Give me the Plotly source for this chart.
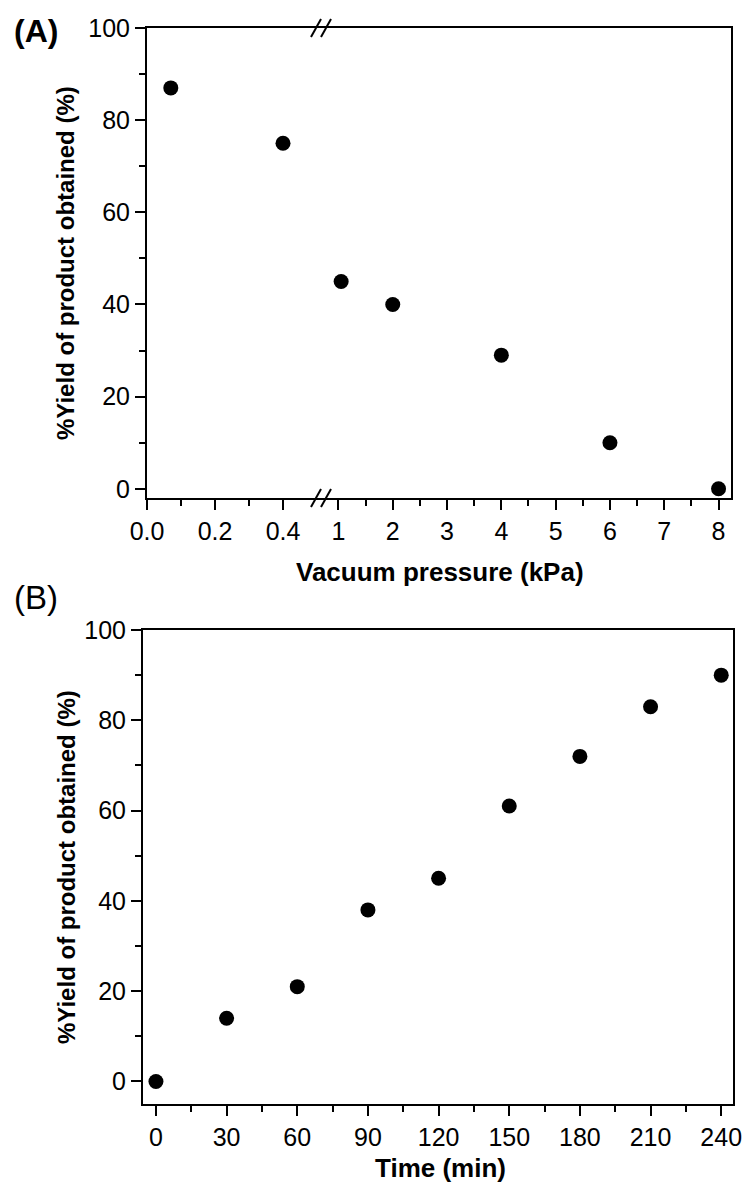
import plotly.graph_objects as go

# ---------------- data ----------------
# Panel A: vacuum pressure (kPa) vs yield (%), broken x axis
pressure_low = [0.07, 0.4]
yield_low = [87, 75]
pressure_high = [1.05, 2, 4, 6, 8]
yield_high = [45, 40, 29, 10, 0]

# Panel B: time (min) vs yield (%)
time_min = [0, 30, 60, 90, 120, 150, 180, 210, 240]
yield_time = [0, 14, 21, 38, 45, 61, 72, 83, 90]

low_ticks = [0.0, 0.2, 0.4]
low_ticktext = ["0.0", "0.2", "0.4"]
high_ticks = [1, 2, 3, 4, 5, 6, 7, 8]
time_ticks = [0, 30, 60, 90, 120, 150, 180, 210, 240]
y_ticks = [0, 20, 40, 60, 80, 100]

W, H = 745, 1189
FONT = "Arial, Liberation Sans, sans-serif"


def px(x):
    return x / W


def py(y):
    return 1 - y / H


# layout geometry (pixels)
A_left, A_break, A_right, A_top, A_bot = 147, 321, 731, 28, 498
B_left, B_right, B_top, B_bot = 143, 733, 630, 1104

marker = dict(symbol="circle", size=15, color="black")

fig = go.Figure()
fig.add_trace(go.Scatter(x=pressure_low, y=yield_low, mode="markers",
                         marker=marker, xaxis="x", yaxis="y", showlegend=False))
fig.add_trace(go.Scatter(x=pressure_high, y=yield_high, mode="markers",
                         marker=marker, xaxis="x2", yaxis="y3", showlegend=False))
fig.add_trace(go.Scatter(x=time_min, y=yield_time, mode="markers",
                         marker=marker, xaxis="x3", yaxis="y2", showlegend=False))

tickfont = dict(family=FONT, size=25, color="black")
common = dict(showline=True, linecolor="black", linewidth=2, ticks="outside",
              tickcolor="black", tickwidth=2, showgrid=False, zeroline=False,
              tickfont=tickfont, automargin=False)

fig.update_layout(
    width=W, height=H,
    margin=dict(l=0, r=0, t=0, b=0, autoexpand=False),
    paper_bgcolor="white", plot_bgcolor="white",
    xaxis=dict(domain=[px(A_left), px(A_break)], anchor="y",
               range=[0, (A_break - A_left) / 340.0],
               tickmode="array", tickvals=low_ticks, ticktext=low_ticktext,
               ticklen=10, mirror=True,
               minor=dict(tickmode="array", tickvals=[0.1, 0.3], ticks="outside",
                          ticklen=6, tickwidth=2, tickcolor="black"),
               **common),
    xaxis2=dict(domain=[px(A_break), px(A_right)], anchor="y3",
                range=[1 - (338.5 - A_break) / 54.5, 8 + (A_right - 718.5) / 54.5],
                tickmode="array", tickvals=high_ticks,
                ticklen=10, mirror=True,
                minor=dict(tickmode="array", tickvals=[1.5, 2.5, 3.5, 4.5, 5.5, 6.5, 7.5],
                           ticks="outside", ticklen=6, tickwidth=2, tickcolor="black"),
                **common),
    yaxis=dict(domain=[py(A_bot), py(A_top)], anchor="x",
               range=[-2, 100], tickmode="array", tickvals=y_ticks,
               ticklen=10,
               minor=dict(dtick=10, tick0=0, ticks="outside", ticklen=6,
                          tickwidth=2, tickcolor="black"),
               **common),
    yaxis3=dict(domain=[py(A_bot), py(A_top)], anchor="x2", matches="y",
                side="right", showline=True, linecolor="black", linewidth=2,
                ticks="", showticklabels=False, showgrid=False, zeroline=False,
                automargin=False),
    xaxis3=dict(domain=[px(B_left), px(B_right)], anchor="y2",
                range=[-5.5, 245], tickmode="array", tickvals=time_ticks,
                ticklen=10, mirror=True,
                minor=dict(dtick=15, tick0=0, ticks="outside", ticklen=6,
                           tickwidth=2, tickcolor="black"),
                **common),
    yaxis2=dict(domain=[py(B_bot), py(B_top)], anchor="x3",
                range=[-5, 100], tickmode="array", tickvals=y_ticks,
                ticklen=10, mirror=True,
                minor=dict(dtick=10, tick0=0, ticks="outside", ticklen=6,
                           tickwidth=2, tickcolor="black"),
                **common),
)

# axis break marks (//) on top and bottom edges of panel A
shapes = []
for yy in (A_top, A_bot):
    for c in (A_break - 5, A_break + 5):
        shapes.append(dict(type="line", xref="paper", yref="paper",
                           x0=px(c - 5), y0=py(yy + 9), x1=px(c + 5), y1=py(yy - 9),
                           line=dict(color="black", width=2)))
fig.update_layout(shapes=shapes)

title_font = dict(family=FONT, size=24, color="black")


def ann(text, x, y, size, angle=0):
    return dict(text=text, x=px(x), y=py(y), xref="paper", yref="paper",
                xanchor="center", yanchor="middle", showarrow=False,
                textangle=angle, font=dict(family=FONT, size=size, color="black"))


annotations = [
    ann("<b>(A)</b>", 36, 31, 32),
    ann("(B)", 36, 597, 33),
    ann("<b>%Yield of product obtained (%)</b>", 66, (A_top + A_bot) / 2, 24, -90),
    ann("<b>%Yield of product obtained (%)</b>", 66, (B_top + B_bot) / 2, 24, -90),
    ann("<b>Vacuum pressure (kPa)</b>", 440, 572, 26),
    ann("<b>Time (min)</b>", 440, 1168, 26),
]
fig.update_layout(annotations=annotations)

fig.write_html("out.html")
